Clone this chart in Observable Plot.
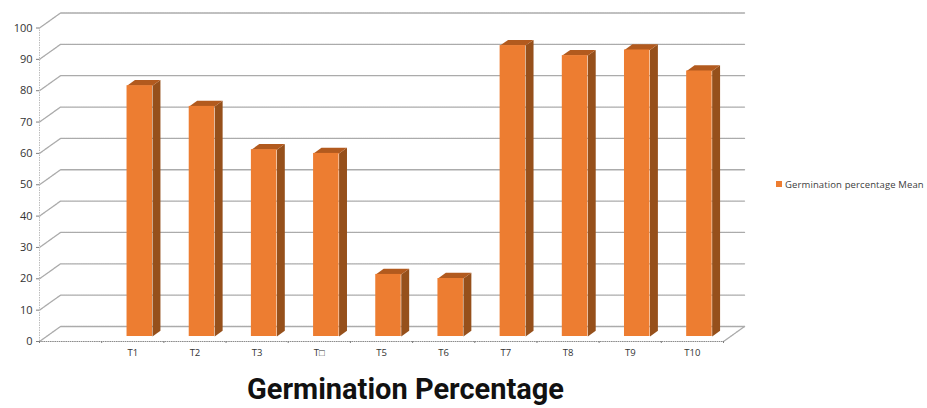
<!DOCTYPE html>
<html>
<head>
<meta charset="utf-8">
<script src="https://cdn.jsdelivr.net/npm/d3@7"></script>
<script src="https://cdn.jsdelivr.net/npm/@observablehq/plot@0.6"></script>
<style>
html,body{margin:0;padding:0;background:#fff;}
#wrap{position:relative;width:927px;height:408px;overflow:hidden;}
#chart{position:absolute;left:0;top:0;}
#title{position:absolute;left:0;width:811px;top:371px;text-align:center;font:700 29px Roboto,sans-serif;color:#111;line-height:36px;}
#legend{position:absolute;left:776px;top:178px;font:9.5px "Open Sans",sans-serif;letter-spacing:0.12px;color:#404040;line-height:13px;white-space:nowrap;}
#legend i{display:inline-block;width:6px;height:6px;background:#ED7D31;margin-right:3px;vertical-align:1px;}
</style>
</head>
<body>
<div id="wrap">
<div id="chart"></div>
<div id="title">Germination Percentage</div>
<div id="legend"><i></i>Germination percentage Mean</div>
</div>
<script>
const categories = ["T1","T2","T3","T□","T5","T6","T7","T8","T9","T10"];
const germination = [80.0,73.4,59.6,58.4,19.8,18.5,92.8,89.6,91.4,84.7];
const yTicks = [0,10,20,30,40,50,60,70,80,90,100];
const seriesName = "Germination percentage Mean";

// oblique projection of the 3D chart box, in data units
const depthX = 0.338, depthY = 4.78;
const px = (c, d) => c + d * depthX;
const py = (v, d) => v + d * depthY;
const barFront = 1/3, barBack = 0.71, barHalf = 0.205;
const slots = categories.length + 1;

const bars = categories.map((name, i) => ({
  name, value: germination[i],
  x1: px(i + 1.5 - barHalf, barFront),
  x2: px(i + 1.5 + barHalf, barFront),
  y1: py(0, barFront),
  y2: py(germination[i], barFront),
  c0: i + 1.5 - barHalf, c1: i + 1.5 + barHalf
}));

const poly = (id, pts) => pts.map(([c, v, d]) => ({id, x: px(c, d), y: py(v, d)}));
const sidePts = bars.flatMap(b => poly(b.name, [
  [b.c1, 0, barFront], [b.c1, b.value, barFront], [b.c1, b.value, barBack], [b.c1, 0, barBack]
]));
const topPts = bars.flatMap(b => poly(b.name, [
  [b.c0, b.value, barFront], [b.c1, b.value, barFront], [b.c1, b.value, barBack], [b.c0, b.value, barBack]
]));
const wallPts = yTicks.flatMap(v => poly(v, [[0, v, 0], [0, v, 1], [slots, v, 1]]));
const floorEdge = poly("edge", [[slots, 0, 0], [slots, 0, 1]]);
const grid = {stroke:"#ababab", strokeWidth:1.3, strokeDasharray:"1.6 0.6"};

const chart = Plot.plot({
  width: 927, height: 360,
  marginLeft: 39, marginRight: 204, marginTop: 27.5, marginBottom: 19,
  style: {background:"#fff", fontFamily:'"Open Sans",sans-serif'},
  x: {domain:[0, slots], axis:null},
  y: {domain:[0, 100], axis:null},
  marks: [
    Plot.line(wallPts, {x:"x", y:"y", z:"id", ...grid}),
    Plot.line(floorEdge, {x:"x", y:"y", z:"id", ...grid}),
    Plot.ruleX([0], {y1:0, y2:100, stroke:"#bdbdbd", strokeWidth:1, strokeDasharray:"1.5 1"}),
    Plot.line(sidePts, {x:"x", y:"y", z:"id", fill:"#96501B", stroke:"none"}),
    Plot.line(topPts, {x:"x", y:"y", z:"id", fill:"#B25A1E", stroke:"none"}),
    Plot.rect(bars, {x1:"x1", x2:"x2", y1:"y1", y2:"y2", fill:"#ED7D31", title:d => `${d.name}: ${d.value}`}),
    Plot.ruleY([0], {x1:0, x2:slots, stroke:"#8c8c8c", strokeWidth:1.2, strokeDasharray:"1.6 0.6"}),
    Plot.axisY({ticks:yTicks, tickSize:3, tickPadding:4, fontSize:11, color:"#333", stroke:"#808080", label:null}),
    Plot.axisX({ticks:d3.range(0, slots + 1), tickSize:2, tickFormat:() => "", stroke:"#808080", label:null}),
    Plot.text(categories, {x:(d, i) => i + 1.5, y:0, text:d => d, dy:11, fontSize:9.5, fill:"#333"})
  ]
});
document.getElementById("chart").appendChild(chart);
</script>
</body>
</html>
